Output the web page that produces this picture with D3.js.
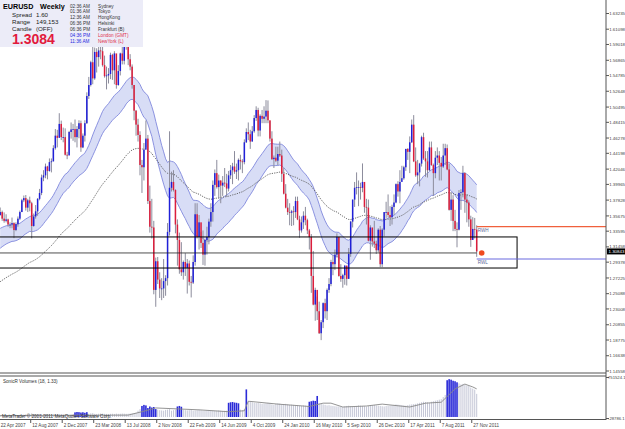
<!DOCTYPE html>
<html><head><meta charset="utf-8">
<script src="https://cdn.jsdelivr.net/npm/d3@7"></script>
<style>body{margin:0;background:#fff;overflow:hidden}svg{display:block;font-family:"Liberation Sans",Arial,sans-serif}</style>
</head><body><svg id="c" width="625" height="429"></svg>
<script>
// ---------------- DATA ----------------
const firstOpen = 1.3580;
const closes = [1.3620,1.3530,1.3500,1.3520,1.3450,1.3450,1.3470,1.3375,1.3455,1.3530,1.3620,1.3780,1.3810,1.3680,1.3780,1.3740,1.3430,1.3560,1.3630,1.3800,
1.3880,1.4090,1.4120,1.4240,1.4180,1.4300,1.4310,1.4490,1.4660,1.4630,1.4820,1.4640,1.4640,1.4400,1.4390,1.4710,1.4745,1.4750,1.4640,1.4750,
1.4830,1.4500,1.4660,1.4830,1.5200,1.5350,1.5660,1.5440,1.5800,1.5730,1.5820,1.5810,1.5620,1.5470,1.5480,1.5500,1.5760,1.5550,1.5780,1.5350,
1.5540,1.5780,1.5680,1.5930,1.5890,1.5700,1.5600,1.5350,1.5000,1.4810,1.4670,1.4260,1.4230,1.4470,1.4620,1.3770,1.3420,1.3410,1.2560,1.2950,
1.2700,1.2580,1.2580,1.2680,1.2720,1.3350,1.3950,1.4030,1.3920,1.3450,1.3240,1.2840,1.2800,1.2940,1.2860,1.2920,1.2670,1.2660,1.2940,1.3590,
1.3280,1.3480,1.3200,1.3040,1.3240,1.3280,1.3490,1.3620,1.3990,1.4150,1.3960,1.4050,1.3980,1.4020,1.4010,1.3940,1.4120,1.4190,1.4240,1.4170,
1.4190,1.4330,1.4310,1.4300,1.4570,1.4710,1.4680,1.4580,1.4720,1.4900,1.5010,1.4730,1.4930,1.4890,1.4920,1.5000,1.4870,1.4620,1.4340,1.4360,
1.4320,1.4410,1.4390,1.4140,1.3870,1.3680,1.3620,1.3610,1.3630,1.3620,1.3770,1.3520,1.3370,1.3480,1.3570,1.3510,1.3370,1.3280,1.2750,1.2360,
1.2560,1.2270,1.1970,1.2120,1.2380,1.2270,1.2560,1.2640,1.2940,1.2910,1.3040,1.3280,1.2750,1.2710,1.2760,1.2890,1.2710,1.3050,1.3490,1.3790,
1.3950,1.3960,1.3960,1.3950,1.4030,1.3690,1.3680,1.3230,1.3410,1.3220,1.3190,1.3100,1.3380,1.2910,1.3380,1.3620,1.3620,1.3580,1.3550,1.3690,
1.3750,1.4000,1.3900,1.4030,1.4080,1.4230,1.4480,1.4440,1.4570,1.4810,1.4310,1.4120,1.4160,1.4280,1.4640,1.4350,1.4310,1.4190,1.4500,1.4260,
1.4150,1.4360,1.4390,1.4290,1.4240,1.4390,1.4490,1.4200,1.3650,1.3790,1.3500,1.3390,1.3380,1.3880,1.3890,1.4150,1.3790,1.3750,1.3520,1.3240,
1.3390,1.3380,1.3084];
const highs = [1.3682,1.3640,1.3615,1.3590,1.3530,1.3480,1.3545,1.3480,1.3480,1.3560,1.3640,1.3800,1.3845,1.3852,1.3800,1.3830,1.3760,1.3600,1.3715,1.3810,
1.3935,1.4130,1.4190,1.4280,1.4250,1.4350,1.4350,1.4530,1.4750,1.4740,1.4966,1.4865,1.4770,1.4760,1.4440,1.4725,1.4840,1.4820,1.4880,1.4790,
1.4870,1.4865,1.4690,1.4870,1.5250,1.5460,1.5680,1.5903,1.5860,1.5850,1.5915,1.5985,1.6019,1.5750,1.5600,1.5580,1.5790,1.5775,1.5810,1.5640,
1.5620,1.5790,1.5950,1.5970,1.6038,1.5920,1.5770,1.5630,1.5350,1.5010,1.4890,1.4720,1.4330,1.4560,1.4867,1.4670,1.3980,1.3800,1.3500,1.3000,
1.3008,1.2800,1.2720,1.2980,1.2760,1.3470,1.4720,1.4170,1.4190,1.3930,1.3520,1.3340,1.3210,1.2960,1.3060,1.2980,1.2960,1.2750,1.3030,1.3740,
1.3740,1.3580,1.3350,1.3370,1.3250,1.3420,1.3530,1.3740,1.4050,1.4200,1.4330,1.4130,1.4050,1.4110,1.4220,1.4140,1.4180,1.4260,1.4290,1.4450,
1.4280,1.4350,1.4400,1.4340,1.4610,1.4760,1.4840,1.4740,1.4790,1.4940,1.5060,1.5040,1.4950,1.5010,1.5060,1.5144,1.5140,1.4860,1.4720,1.4390,
1.4510,1.4510,1.4580,1.4470,1.4220,1.4000,1.3800,1.3740,1.3650,1.3700,1.3830,1.3830,1.3570,1.3560,1.3630,1.3690,1.3530,1.3390,1.3320,1.3090,
1.2590,1.2470,1.2400,1.2150,1.2390,1.2440,1.2580,1.2720,1.2970,1.3030,1.3110,1.3330,1.3280,1.2910,1.2780,1.2900,1.2890,1.3130,1.3500,1.3790,
1.4030,1.4160,1.4050,1.4020,1.4282,1.3970,1.3800,1.3790,1.3440,1.3390,1.3500,1.3230,1.3400,1.3430,1.3400,1.3620,1.3760,1.3860,1.3700,1.3720,
1.3860,1.4010,1.4040,1.4190,1.4250,1.4250,1.4480,1.4490,1.4650,1.4880,1.4940,1.4500,1.4330,1.4290,1.4660,1.4700,1.4450,1.4450,1.4580,1.4580,
1.4280,1.4450,1.4500,1.4450,1.4370,1.4550,1.4550,1.4540,1.4280,1.3890,1.3850,1.3650,1.3480,1.3920,1.3930,1.4250,1.4160,1.3860,1.3780,1.3570,
1.3550,1.3540,1.3440];
const lows = [1.3570,1.3500,1.3475,1.3480,1.3420,1.3400,1.3400,1.3265,1.3360,1.3420,1.3510,1.3620,1.3755,1.3640,1.3620,1.3630,1.3261,1.3420,1.3530,1.3570,
1.3780,1.3850,1.4040,1.4080,1.4065,1.4170,1.4160,1.4310,1.4470,1.4500,1.4640,1.4600,1.4570,1.4390,1.4340,1.4400,1.4620,1.4590,1.4570,1.4500,
1.4625,1.4440,1.4490,1.4580,1.4820,1.5160,1.5330,1.5360,1.5420,1.5520,1.5600,1.5700,1.5600,1.5450,1.5290,1.5370,1.5430,1.5420,1.5360,1.5300,
1.5340,1.5480,1.5630,1.5630,1.5830,1.5620,1.5550,1.5300,1.4870,1.4660,1.4580,1.4120,1.3880,1.4050,1.4500,1.3730,1.3340,1.3260,1.2500,1.2330,
1.2640,1.2450,1.2420,1.2450,1.2480,1.2620,1.3300,1.3900,1.3900,1.3330,1.2890,1.2780,1.2750,1.2700,1.2750,1.2510,1.2620,1.2457,1.2640,1.2890,
1.3260,1.3110,1.3130,1.2900,1.2890,1.3040,1.3180,1.3420,1.3490,1.3840,1.3940,1.3800,1.3740,1.3840,1.3960,1.3830,1.3900,1.4070,1.4000,1.4140,
1.4070,1.4050,1.4200,1.4150,1.4270,1.4560,1.4600,1.4480,1.4580,1.4700,1.4860,1.4650,1.4650,1.4830,1.4830,1.4830,1.4830,1.4580,1.4330,1.4220,
1.4300,1.4260,1.4370,1.4030,1.3860,1.3670,1.3580,1.3440,1.3430,1.3440,1.3540,1.3510,1.3270,1.3340,1.3390,1.3440,1.3320,1.3110,1.2520,1.2350,
1.2140,1.2150,1.1960,1.1876,1.2040,1.2170,1.2150,1.2520,1.2610,1.2760,1.2830,1.3000,1.2740,1.2670,1.2590,1.2630,1.2620,1.2710,1.3010,1.3410,
1.3690,1.3860,1.3700,1.3790,1.3890,1.3610,1.3450,1.3220,1.2970,1.3150,1.3130,1.3050,1.3070,1.2870,1.2870,1.3290,1.3540,1.3550,1.3430,1.3450,
1.3580,1.3740,1.3830,1.3740,1.4070,1.4060,1.4180,1.4330,1.4150,1.4560,1.4300,1.4100,1.4000,1.3970,1.4240,1.4330,1.4100,1.4090,1.4180,1.4250,
1.3840,1.4080,1.4260,1.4050,1.4050,1.4220,1.4260,1.4190,1.3640,1.3500,1.3360,1.3360,1.3140,1.3370,1.3650,1.3820,1.3610,1.3480,1.3420,1.3146,
1.3250,1.3260,1.3010];
// tick volume, thousands
const volumes = [40,45,38,42,36,40,44,48,42,38,40,46,44,50,48,52,70,55,48,46,50,52,48,46,50,48,46,52,55,50,56,50,48,52,46,40,48,55,
88,95,92,85,90,80,92,
62,70,75,60,58,62,66,64,60,58,56,60,62,58,64,60,62,66,64,60,62,66,70,75,80,
120,150,210,230,220,170,200,180,190,150,140,
130,125,120,135,140,150,120,130,140,200,210,195,140,130,125,130,135,120,125,130,140,128,120,118,125,130,122,120,115,118,125,120,115,118,120,
270,280,285,275,270,260,
140,130,150,
525,
300,290,280,270,265,270,260,250,255,260,270,265,240,230,250,260,255,240,245,250,240,230,235,230,220,225,215,210,220,215,205,
290,300,310,305,400,
260,250,240,230,220,225,215,210,205,200,200,195,190,200,210,215,205,200,195,210,220,215,210,205,200,210,220,225,230,220,215,210,205,200,210,215,220,225,230,240,235,230,225,220,215,225,235,240,245,250,260,270,280,290,285,280,270,290,300,310,320,330,
340,380,420,
700,720,710,690,680,660,
640,620,630,610,600,590,560,540,
520,440];
const blueVolumeRanges = [[38,44],[72,79],[90,92],[116,121],[125,125],[157,161],[227,232]];
const volAvgIdx = [0,65,72,79,101,116,124,126,141,157,164,168,174,186,194,208,216,224,231,236,240,242];
const volAvgVal = [27,36,100,172,136,100,118,300,245,200,263,263,190,209,245,190,263,281,535,626,572,535];
const priceTicks = [1.63235,1.61098,1.59018,1.56865,1.54785,1.52648,1.50495,1.48415,1.46278,1.44198,1.42046,1.39965,1.37828,1.35675,1.33595,1.31458,1.29378,1.27225,1.25088,1.23008,1.20855,1.18775,1.16638,1.14558];
const volumeTicks = ["751524.1", "-28786.1"];
const dateIdx = [0,16,32,48,64,80,96,112,128,144,160,176,192,208,224,240];
const dateLabels = ["22 Apr 2007","12 Aug 2007","2 Dec 2007","23 Mar 2008","13 Jul 2008","2 Nov 2008","22 Feb 2009","14 Jun 2009","4 Oct 2009","24 Jan 2010","16 May 2010","5 Sep 2010","26 Dec 2010","17 Apr 2011","7 Aug 2011","27 Nov 2011"];
const dragonSeedHigh = 1.3380, dragonSeedLow = 1.3100, trendSeed = 1.2650; // EMA values before first bar
const rwh = 1.3421, rwl = 1.2981, lastPrice = 1.3084, lastPriceLabel = "1.30843";
const zoneTop = 1.3281, zoneMid = 1.3063, zoneBottom = 1.2858;
const zoneEndIdx = 262.5;
const sessions = [["02:36 AM","Sydney"],["01:36 AM","Tokyo"],["12:36 AM","HongKong"],["06:36 PM","Helsinki"],["06:36 PM","Frankfurt (B)"],["04:36 PM","London (GMT)"],["11:36 AM","NewYork (L)"]];

// ---------------- CHART ----------------
const svg = d3.select("#c");
const W = 625, H = 429, axisX = 606;
const x = d3.scaleLinear().domain([0, 242]).range([0.2, 0.2 + 242 * 1.969]);
const y = d3.scaleLinear().domain([1.14558, 1.63235]).range([371, 13.5]);
const yv = d3.scaleLinear().domain([-28786.1, 751524.1]).range([418.5, 377.5]);

svg.append("rect").attr("width", W).attr("height", H).attr("fill", "#fff");
const plot = svg.append("g");
svg.append("defs").append("clipPath").attr("id", "cp").append("rect").attr("x", 0).attr("y", 0).attr("width", axisX).attr("height", 373);
plot.attr("clip-path", "url(#cp)");

function ema(arr, period, seed) { const a = 2 / (period + 1); let p = seed; return arr.map(v => (p = a * v + (1 - a) * p)); }
const eH = ema(highs, 34, dragonSeedHigh), eL = ema(lows, 34, dragonSeedLow), eT = ema(closes, 89, trendSeed);
const idx = d3.range(closes.length);

plot.append("path").datum(idx).attr("fill", "#d8ddf6")
  .attr("d", d3.area().x(i => x(i)).y0(i => y(eL[i])).y1(i => y(eH[i])));
[eH, eL].forEach(s => plot.append("path").datum(idx).attr("fill", "none").attr("stroke", "#8088dc").attr("stroke-width", 0.9)
  .attr("d", d3.line().x(i => x(i)).y(i => y(s[i]))));
plot.append("path").datum(idx).attr("fill", "none").attr("stroke", "#555").attr("stroke-width", 0.9).attr("stroke-dasharray", "1.2,1.2")
  .attr("d", d3.line().x(i => x(i)).y(i => y(eT[i])));

const opens = closes.map((c, i) => i === 0 ? firstOpen : closes[i - 1]);
const cg = plot.append("g");
cg.selectAll("line.w").data(idx).join("line").attr("class", "w")
  .attr("x1", i => x(i)).attr("x2", i => x(i)).attr("y1", i => y(highs[i])).attr("y2", i => y(lows[i]))
  .attr("stroke", "#8c8c9c").attr("stroke-width", 1);
cg.selectAll("rect.b").data(idx).join("rect").attr("class", "b")
  .attr("x", i => x(i) - 0.75).attr("width", 1.5)
  .attr("y", i => y(Math.max(opens[i], closes[i])))
  .attr("height", i => Math.max(0.8, Math.abs(y(opens[i]) - y(closes[i]))))
  .attr("fill", i => closes[i] >= opens[i] ? "#2020d8" : "#dc1e3c");

// zone boxes
plot.append("rect").attr("x", -1).attr("y", y(zoneTop)).attr("width", x(zoneEndIdx) + 1).attr("height", y(zoneBottom) - y(zoneTop))
  .attr("fill", "none").attr("stroke", "#000").attr("stroke-width", 1);
plot.append("line").attr("x1", 0).attr("x2", x(242)).attr("y1", y(zoneMid)).attr("y2", y(zoneMid)).attr("stroke", "#222").attr("stroke-width", 0.8);
plot.append("line").attr("x1", x(242)).attr("x2", axisX).attr("y1", y(rwh)).attr("y2", y(rwh)).attr("stroke", "#f0603c").attr("stroke-width", 1.2);
plot.append("line").attr("x1", x(242)).attr("x2", axisX).attr("y1", y(rwl)).attr("y2", y(rwl)).attr("stroke", "#6a6ae0").attr("stroke-width", 1.2);
plot.append("text").attr("x", x(242) + 1).attr("y", y(rwh) + 5).attr("font-size", 4.6).attr("fill", "#5a6a9a").text("RWH");
plot.append("text").attr("x", x(242) + 1).attr("y", y(rwl) + 5).attr("font-size", 4.6).attr("fill", "#5a6a9a").text("RWL");
plot.append("circle").attr("cx", x(242) + 5).attr("cy", y(zoneMid)).attr("r", 2.8).attr("fill", "#f04a1e");

// info box
const ib = svg.append("g");
ib.append("rect").attr("x", 0).attr("y", 0).attr("width", 143).attr("height", 47).attr("fill", "#ececf8");
ib.append("text").attr("x", 3).attr("y", 9).attr("font-size", 7.2).attr("font-weight", "bold").text("EURUSD");
ib.append("text").attr("x", 40).attr("y", 9).attr("font-size", 7.2).attr("font-weight", "bold").text("Weekly");
[["Spread",  "1.60", 16.5], ["Range", "149,153", 23.5], ["Candle", "(OFF)", 30.5]].forEach(([a, b, yy]) => {
  ib.append("text").attr("x", 12).attr("y", yy).attr("font-size", 6.2).attr("fill", "#222").text(a);
  ib.append("text").attr("x", 36).attr("y", yy).attr("font-size", 6.2).attr("fill", "#222").text(b);
});
ib.append("text").attr("x", 12).attr("y", 44).attr("font-size", 14).attr("font-weight", "bold").attr("fill", "#e21a3c").text("1.3084");
sessions.forEach(([t, c], k) => {
  const yy = 7.5 + k * 5.9, hl = k >= 5;
  ib.append("text").attr("x", 70).attr("y", yy).attr("font-size", 4.7).attr("fill", hl ? "#2a2ae0" : "#333").text(t);
  ib.append("text").attr("x", 98).attr("y", yy).attr("font-size", 4.7).attr("fill", hl ? "#e0304a" : "#333").text(c);
});

// price axis
svg.append("line").attr("x1", axisX).attr("x2", axisX).attr("y1", 0).attr("y2", 420).attr("stroke", "#555").attr("stroke-width", 1);
const pa = svg.append("g");
priceTicks.forEach(p => {
  pa.append("line").attr("x1", axisX).attr("x2", axisX + 3).attr("y1", y(p)).attr("y2", y(p)).attr("stroke", "#555");
  pa.append("text").attr("x", axisX + 3.2).attr("y", y(p) + 1.6).attr("font-size", 4.4).attr("fill", "#444").text(p.toFixed(5));
});
pa.append("rect").attr("x", axisX + 1).attr("y", y(lastPrice) - 3).attr("width", 18).attr("height", 6).attr("fill", "#000");
pa.append("text").attr("x", axisX + 2.5).attr("y", y(lastPrice) + 1.6).attr("font-size", 4.4).attr("fill", "#fff").text(lastPriceLabel);

// separators
svg.append("line").attr("x1", 0).attr("x2", axisX).attr("y1", 373).attr("y2", 373).attr("stroke", "#555");
svg.append("line").attr("x1", 0).attr("x2", axisX).attr("y1", 376).attr("y2", 376).attr("stroke", "#555");
svg.append("line").attr("x1", 0).attr("x2", axisX).attr("y1", 419.5).attr("y2", 419.5).attr("stroke", "#555");

// volume panel
const isBlue = i => blueVolumeRanges.some(([a, b]) => i >= a && i <= b);
const vg = svg.append("g");
vg.selectAll("rect").data(idx).join("rect")
  .attr("x", i => x(i) - (isBlue(i) ? 0.8 : 0.5)).attr("width", i => isBlue(i) ? 1.6 : 1)
  .attr("y", i => yv(volumes[i] * 1000)).attr("height", i => yv(0) - yv(volumes[i] * 1000))
  .attr("fill", i => isBlue(i) ? "#2b2bd8" : "#c4c6d6");
vg.append("path").datum(volAvgIdx.map((v, k) => [v, volAvgVal[k]])).attr("fill", "none").attr("stroke", "#888").attr("stroke-width", 0.9)
  .attr("d", d3.line().x(d => x(d[0])).y(d => yv(d[1] * 1000)));
svg.append("text").attr("x", 3).attr("y", 383).attr("font-size", 4.6).attr("fill", "#333").text("SonicR Volumes (18, 1.33)");
svg.append("text").attr("x", 2).attr("y", 417.5).attr("font-size", 4.6).attr("fill", "#333").text("MetaTrader © 2001-2011 MetaQuotes Software Corp.");
volumeTicks.forEach(v => {
  const yy = yv(+v);
  svg.append("line").attr("x1", axisX).attr("x2", axisX + 3).attr("y1", yy).attr("y2", yy).attr("stroke", "#555");
  svg.append("text").attr("x", axisX + 2).attr("y", yy + 1.6).attr("font-size", 4.2).attr("fill", "#444").text(v);
});

// date axis
dateIdx.forEach((d, k) => {
  const xx = x(d) - 1;
  svg.append("line").attr("x1", xx).attr("x2", xx).attr("y1", 419.5).attr("y2", 423).attr("stroke", "#555");
  svg.append("text").attr("x", xx + 1.5).attr("y", 426.5).attr("font-size", 4.6).attr("fill", "#444").text(dateLabels[k]);
});
</script></body></html>
